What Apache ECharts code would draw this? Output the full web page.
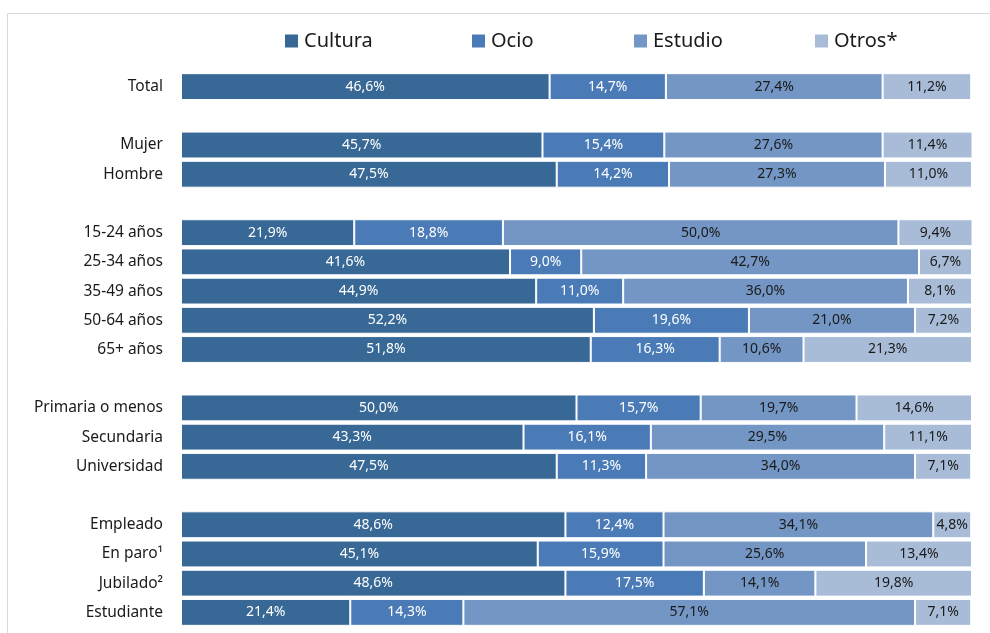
<!DOCTYPE html>
<html>
<head>
    <meta charset="UTF-8">
    <title>Distribución</title>
    <script src="https://cdn.jsdelivr.net/npm/echarts@6/dist/echarts.min.js"></script>
    <style>
        body { margin: 0; background: #fff; }
        #container { width: 990px; height: 633px; }
    </style>
</head>
<body>
<div id="container"></div>
<script>
    // categorías (las vacías son separadores entre grupos)
    var categorias = ['Total', '', 'Mujer', 'Hombre', '', '15-24 años', '25-34 años', '35-49 años', '50-64 años', '65+ años', '',
        'Primaria o menos', 'Secundaria', 'Universidad', '', 'Empleado', 'En paro¹', 'Jubilado²', 'Estudiante'];

    var cultura = [46.6, '-', 45.7, 47.5, '-', 21.9, 41.6, 44.9, 52.2, 51.8, '-', 50.0, 43.3, 47.5, '-', 48.6, 45.1, 48.6, 21.4];
    var ocio = [14.7, '-', 15.4, 14.2, '-', 18.8, 9.0, 11.0, 19.6, 16.3, '-', 15.7, 16.1, 11.3, '-', 12.4, 15.9, 17.5, 14.3];
    var estudio = [27.4, '-', 27.6, 27.3, '-', 50.0, 42.7, 36.0, 21.0, 10.6, '-', 19.7, 29.5, 34.0, '-', 34.1, 25.6, 14.1, 57.1];
    var otros = [11.2, '-', 11.4, 11.0, '-', 9.4, 6.7, 8.1, 7.2, 21.3, '-', 14.6, 11.1, 7.1, '-', 4.8, 13.4, 19.8, 7.1];

    var nombres = ['Cultura', 'Ocio', 'Estudio', 'Otros*'];
    var colores = ['#386895', '#4a7bb6', '#7396c4', '#a8bcd8'];
    var colorTexto = ['#ffffff', '#ffffff', '#1a1a1a', '#1a1a1a'];
    var datos = [cultura, ocio, estudio, otros];

    var fuente = '"Noto Sans", sans-serif';
    // posición horizontal de cada entrada de la leyenda
    var leyendaX = [283, 470, 632, 813];

    var series = [];
    var leyendas = [];
    for (var i = 0; i < datos.length; i++) {
        series.push({
            name: nombres[i],
            type: 'bar',
            stack: 'total',
            barCategoryGap: '8%',
            data: datos[i],
            itemStyle: { color: colores[i], borderColor: '#ffffff', borderWidth: 1 },
            label: {
                show: true,
                position: 'inside',
                color: colorTexto[i],
                fontFamily: fuente,
                fontSize: 14,
                formatter: function (p) {
                    return p.value.toFixed(1).replace('.', ',') + '%';
                }
            }
        });
        leyendas.push({
            data: [nombres[i]],
            left: leyendaX[i],
            top: 31,
            padding: 0,
            itemWidth: 15,
            itemHeight: 15,
            itemGap: 5,
            icon: 'rect',
            selectedMode: false,
            textStyle: { fontFamily: fuente, fontSize: 20, color: '#1a1a1a' }
        });
    }

    var mychart = echarts.init(document.getElementById('container'));
    var option = {
        animation: false,
        graphic: [{
            type: 'rect',
            shape: { x: 7.5, y: 13.5, width: 1000, height: 700 },
            style: { fill: 'none', stroke: '#d9d9d9', lineWidth: 1 },
            silent: true
        }],
        legend: leyendas,
        grid: { left: 181, right: 18, top: 72, bottom: 6, containLabel: false },
        xAxis: {
            type: 'value',
            min: 0,
            max: 100,
            show: false
        },
        yAxis: {
            type: 'category',
            data: categorias,
            inverse: true,
            axisLine: { show: false },
            axisTick: { show: false },
            axisLabel: { margin: 18, color: '#1a1a1a', fontFamily: fuente, fontSize: 15.5 }
        },
        series: series
    };
    mychart.setOption(option);
</script>
</body>
</html>
